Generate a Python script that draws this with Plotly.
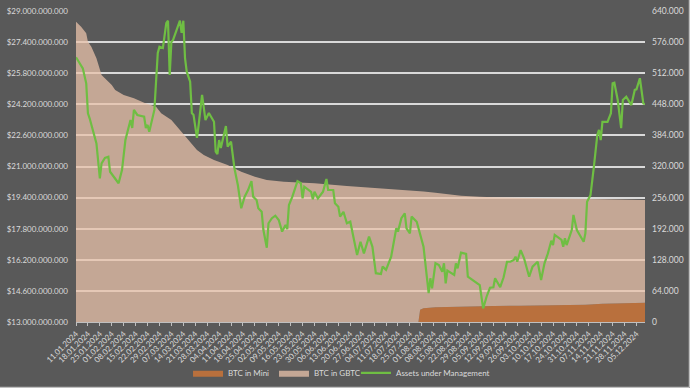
import plotly.graph_objects as go

# ---- Data ----
btc_dates = ["2024-01-11", "2024-01-14", "2024-01-17", "2024-01-18", "2024-01-20", "2024-01-23",
             "2024-01-26", "2024-01-30", "2024-02-01", "2024-02-03", "2024-02-08", "2024-02-14",
             "2024-02-20", "2024-02-27", "2024-03-01", "2024-03-07", "2024-03-13", "2024-03-18",
             "2024-03-22", "2024-03-26", "2024-04-01", "2024-04-09", "2024-04-17", "2024-04-25",
             "2024-05-02", "2024-05-12", "2024-05-22", "2024-05-30", "2024-06-18", "2024-07-08",
             "2024-07-27", "2024-07-30", "2024-07-31", "2024-08-02", "2024-08-09", "2024-08-16",
             "2024-08-24", "2024-09-04", "2024-09-12", "2024-09-27", "2024-10-21", "2024-11-05",
             "2024-11-15", "2024-11-20", "2024-12-10"]

btc_total = [618.0, 607.7, 594.1, 576.9, 566.6, 542.7, 508.3, 494.5, 487.7, 477.5, 467.2, 460.4,
             451.3, 443.1, 429.5, 415.7, 391.6, 371.1, 354.0, 343.7, 333.4, 323.1, 309.3, 299.0,
             292.2, 288.7, 286.7, 285.4, 279.9, 275.2, 270.2, 269.5, 269.0, 268.5, 266.0, 262.8,
             260.0, 257.9, 256.6, 255.8, 254.6, 254.0, 253.0, 252.5, 251.1]  # thousand BTC

btc_mini = [0, 0, 0, 0, 0, 0, 0, 0, 0, 0, 0, 0,
            0, 0, 0, 0, 0, 0, 0, 0, 0, 0, 0, 0,
            0, 0, 0, 0, 0, 0, 0, 0, 25.0, 28.5, 30.2, 31.0,
            31.5, 32.5, 33.0, 33.5, 34.5, 35.5, 37.5, 38.0, 39.7]  # thousand BTC

btc_gbtc = [round(t - m, 1) for t, m in zip(btc_total, btc_mini)]

aum_dates = ["2024-01-11", "2024-01-15", "2024-01-17", "2024-01-18", "2024-01-19", "2024-01-23",
             "2024-01-25", "2024-01-26", "2024-01-28", "2024-01-30", "2024-01-31", "2024-02-05",
             "2024-02-07", "2024-02-09", "2024-02-12", "2024-02-13", "2024-02-14", "2024-02-16",
             "2024-02-20", "2024-02-21", "2024-02-22", "2024-02-23", "2024-02-26", "2024-02-27",
             "2024-02-28", "2024-02-29", "2024-03-02", "2024-03-04", "2024-03-05", "2024-03-06",
             "2024-03-07", "2024-03-08", "2024-03-10", "2024-03-12", "2024-03-13", "2024-03-14",
             "2024-03-15", "2024-03-16", "2024-03-18", "2024-03-19", "2024-03-20", "2024-03-22",
             "2024-03-23", "2024-03-25", "2024-03-27", "2024-03-29", "2024-04-01", "2024-04-02",
             "2024-04-03", "2024-04-04", "2024-04-05", "2024-04-08", "2024-04-09", "2024-04-11",
             "2024-04-13", "2024-04-15", "2024-04-17", "2024-04-19", "2024-04-21", "2024-04-23",
             "2024-04-24", "2024-04-26", "2024-04-27", "2024-04-29", "2024-04-30", "2024-05-02",
             "2024-05-03", "2024-05-05", "2024-05-07", "2024-05-09", "2024-05-11", "2024-05-13",
             "2024-05-14", "2024-05-15", "2024-05-17", "2024-05-20", "2024-05-22", "2024-05-23",
             "2024-05-24", "2024-05-28", "2024-05-29", "2024-05-30", "2024-06-01", "2024-06-04",
             "2024-06-06", "2024-06-07", "2024-06-10", "2024-06-11", "2024-06-13", "2024-06-14",
             "2024-06-16", "2024-06-18", "2024-06-20", "2024-06-22", "2024-06-24", "2024-06-26",
             "2024-06-27", "2024-06-28", "2024-07-01", "2024-07-03", "2024-07-05", "2024-07-08",
             "2024-07-09", "2024-07-11", "2024-07-14", "2024-07-17", "2024-07-18", "2024-07-20",
             "2024-07-22", "2024-07-23", "2024-07-25", "2024-07-26", "2024-07-29", "2024-07-31",
             "2024-08-02", "2024-08-05", "2024-08-06", "2024-08-07", "2024-08-09", "2024-08-11",
             "2024-08-13", "2024-08-14", "2024-08-15", "2024-08-16", "2024-08-20", "2024-08-21",
             "2024-08-22", "2024-08-24", "2024-08-27", "2024-08-28", "2024-08-31", "2024-09-04",
             "2024-09-06", "2024-09-08", "2024-09-10", "2024-09-12", "2024-09-13", "2024-09-16",
             "2024-09-18", "2024-09-20", "2024-09-22", "2024-09-24", "2024-09-25", "2024-09-26",
             "2024-09-28", "2024-09-30", "2024-10-03", "2024-10-05", "2024-10-08", "2024-10-10",
             "2024-10-12", "2024-10-14", "2024-10-16", "2024-10-17", "2024-10-18", "2024-10-22",
             "2024-10-23", "2024-10-24", "2024-10-25", "2024-10-28", "2024-10-29", "2024-10-31",
             "2024-11-04", "2024-11-05", "2024-11-06", "2024-11-08", "2024-11-10", "2024-11-12",
             "2024-11-13", "2024-11-14", "2024-11-15", "2024-11-18", "2024-11-20", "2024-11-21",
             "2024-11-22", "2024-11-24", "2024-11-26", "2024-11-27", "2024-11-29", "2024-12-02",
             "2024-12-04", "2024-12-05", "2024-12-07", "2024-12-09", "2024-12-10"]

aum_bn = [26.62, 26.05, 25.28, 23.74, 23.48, 22.19,
          20.39, 21.16, 21.44, 21.50, 20.73, 20.14,
          20.82, 22.36, 23.39, 22.98, 23.91, 23.65,
          23.56, 22.98, 23.14, 22.79, 23.91, 25.30,
          26.84, 27.16, 27.10, 28.38, 28.50, 25.71,
          27.42, 27.51, 28.02, 28.50, 27.87, 28.50,
          26.58, 25.88, 25.36, 23.75, 23.65, 22.47,
          23.14, 24.68, 23.39, 23.75, 23.30, 21.76,
          21.64, 22.36, 21.95, 23.08, 22.02, 22.28,
          20.91, 20.05, 18.85, 19.45, 19.79, 20.25,
          19.45, 19.28, 18.85, 18.67, 17.73, 16.82,
          18.08, 18.34, 18.47, 18.25, 17.65, 17.99,
          17.78, 19.02, 19.45, 20.25, 20.14, 19.36,
          19.96, 19.70, 19.31, 19.70, 19.36, 19.70,
          20.36, 19.79, 19.79, 19.11, 18.93, 18.42,
          18.67, 18.08, 18.16, 17.39, 16.45, 17.13,
          16.79, 16.53, 17.39, 16.87, 15.51, 15.47,
          15.85, 15.68, 16.36, 17.82, 17.65, 18.34,
          18.59, 17.82, 17.56, 18.42, 18.16, 17.56,
          16.87, 14.48, 15.25, 14.73, 16.02, 15.93,
          15.59, 16.02, 14.99, 15.64, 15.42, 16.02,
          15.76, 16.57, 16.50, 15.33, 15.16, 14.90,
          13.70, 14.30, 14.76, 14.79, 15.25, 14.79,
          15.30, 16.10, 16.10, 16.19, 16.36, 16.10,
          16.70, 16.28, 15.33, 15.85, 16.10, 15.16,
          16.02, 16.53, 17.18, 16.96, 17.48, 17.22,
          16.87, 17.31, 16.96, 17.73, 18.51, 17.73,
          17.13, 17.56, 19.19, 19.53, 20.99, 22.62,
          22.88, 22.36, 23.30, 23.30, 23.74, 25.28,
          25.31, 24.42, 22.97, 24.42, 24.59, 24.16,
          24.94, 24.97, 25.54, 24.25, 24.20]

series_names = ["BTC in Mini", "BTC in GBTC", "Assets under Management"]

# ---- Styles ----
BG = "#595959"
TXT = "#D9D9D9"
GRID = "#D9D9D9"
FONT = "Lato"

fig = go.Figure()

fig.add_trace(go.Scatter(
    x=btc_dates, y=[v * 1000 for v in btc_mini], name=series_names[0],
    mode="lines", stackgroup="btc", line=dict(width=0, color="#B9703D"),
    fillcolor="#B9703D", yaxis="y", legend="legend"))

fig.add_trace(go.Scatter(
    x=btc_dates, y=[v * 1000 for v in btc_gbtc], name=series_names[1],
    mode="lines", stackgroup="btc", line=dict(width=0, color="rgba(232,193,170,0.75)"),
    fillcolor="rgba(232,193,170,0.75)", yaxis="y", legend="legend2"))

fig.add_trace(go.Scatter(
    x=aum_dates, y=[v * 1e9 for v in aum_bn], name=series_names[2],
    mode="lines", line=dict(width=2.2, color="#6FBE43"), yaxis="y2", legend="legend3"))

# thin light frame on the right and bottom edges of the chart area (decoration)
frame = dict(type="line", xref="paper", yref="paper", line=dict(color="#BFBFBF", width=1.5))
fig.add_shape(**frame, x0=1.0782, x1=1.0782, y0=-0.2106, y1=1.0354)
fig.add_shape(**frame, x0=-0.1336, x1=1.0782, y0=-0.2106, y1=-0.2106)

leg_common = dict(orientation="h", xref="container", xanchor="left",
                  yref="container", y=0.039, yanchor="middle",
                  font=dict(size=8, color=TXT), itemwidth=30,
                  bgcolor="rgba(0,0,0,0)")

fig.update_layout(
    width=690, height=388,
    margin=dict(l=76, r=45, t=11, b=66, autoexpand=False),
    paper_bgcolor=BG, plot_bgcolor=BG,
    separators=",.",
    font=dict(family=FONT, color=TXT, size=9),
    showlegend=True,
    legend=dict(**leg_common, x=0.2725),
    legend2=dict(**leg_common, x=0.3971),
    legend3=dict(**leg_common, x=0.5159),
    xaxis=dict(
        type="date", range=["2024-01-11", "2024-12-10"], automargin=False,
        tick0="2024-01-11", dtick=7 * 86400000, tickformat="%d.%m.%Y",
        tickangle=-45, tickfont=dict(size=8, color=TXT),
        ticks="outside", ticklen=3, tickcolor="#BFBFBF",
        showline=True, linecolor="#BFBFBF", linewidth=1,
        showgrid=False, zeroline=False),
    yaxis=dict(
        side="right", range=[0, 640000], tick0=0, dtick=64000, automargin=False,
        tickformat=",.0f", tickfont=dict(size=8.5, color=TXT),
        showgrid=True, gridcolor=GRID, gridwidth=1.6, zeroline=False,
        ticklabelstandoff=6),
    yaxis2=dict(
        side="left", overlaying="y", range=[13e9, 29e9], tick0=13e9, dtick=1.6e9,
        automargin=False,
        tickformat=",.0f", tickprefix="$", tickfont=dict(size=8, color=TXT),
        showgrid=False, zeroline=False, ticklabelstandoff=7),
)

fig.write_html(
    "out.html",
    config={"displayModeBar": False},
    post_script="document.body.style.margin='0';document.body.style.backgroundColor='#595959';",
)
